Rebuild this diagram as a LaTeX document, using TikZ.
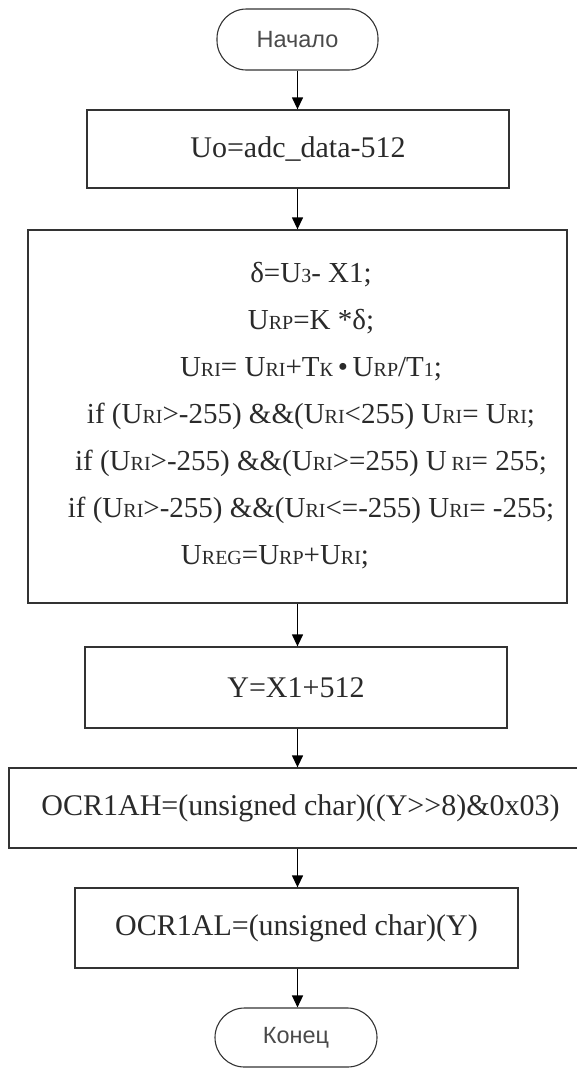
\documentclass[tikz,border=0pt]{standalone}
\usepackage{fontspec}
\setmainfont{Liberation Serif}
\newfontfamily\termfont{Liberation Sans}
\usetikzlibrary{arrows.meta}
\newcommand{\sm}[1]{{\fontsize{20}{20}\selectfont #1}}
\definecolor{linegray}{HTML}{333333}
\definecolor{txtgray}{HTML}{2A2A2A}
\definecolor{termgray}{HTML}{4A4A4A}
\begin{document}
\begin{tikzpicture}[x=1pt,y=-1pt,
  proc/.style={draw=linegray, line width=1.3pt, inner sep=0pt, text=txtgray,
    font=\fontsize{30}{36}\selectfont},
  term/.style={draw=linegray, line width=1.1pt, rounded corners=29.5pt, inner sep=0pt,
    text=termgray, font=\termfont\fontsize{23.5}{28}\selectfont},
  arr/.style={-{Triangle[width=11pt,length=12pt]}, line width=1.3pt, draw=black}]
\useasboundingbox (0,0) rectangle (576,1068);

\node[term, minimum width=161pt, minimum height=61pt] (start) at (297.5,39.5) {Начало};
\node[proc, minimum width=422pt, minimum height=78pt] (b1) at (298,149) {Uo=adc\_data-512};
\node[proc, minimum width=539pt, minimum height=373pt] (b2) at (297.5,416.5) {};
\node[align=center, inner sep=0pt, text=txtgray, font=\fontsize{29}{47}\selectfont] (b2t) at (311,416) {%
δ=U\sm{З}- X1;\\
U\sm{RP}=K *δ;\\
U\sm{RI}= U\sm{RI}+T\sm{К}\,•\,U\sm{RP}/T\sm{1};\\
if (U\sm{RI}>-255) \&\&(U\sm{RI}<255) U\sm{RI}= U\sm{RI};\\
if (U\sm{RI}>-255) \&\&(U\sm{RI}>=255) U\,\sm{RI}= 255;\\
if (U\sm{RI}>-255) \&\&(U\sm{RI}<=-255) U\sm{RI}= -255;\\
U\sm{REG}=U\sm{RP}+U\sm{RI};\rule{72pt}{0pt}};
\node[proc, minimum width=422pt, minimum height=81pt] (b3) at (296,687.5) {Y=X1+512};
\node[proc, minimum width=583pt, minimum height=80pt] (b4) at (300.5,808) {OCR1AH=(unsigned char)((Y>{}>8)\&0x03)};
\node[proc, minimum width=443pt, minimum height=80pt] (b5) at (296.5,928) {OCR1AL=(unsigned char)(Y)};
\node[term, minimum width=162pt, minimum height=59pt] (end) at (296,1037.5) {Конец};

\draw[arr] (start.south) -- (start.south |- b1.north);
\draw[arr] (start.south |- b1.south) -- (start.south |- b2.north);
\draw[arr] (start.south |- b2.south) -- (start.south |- b3.north);
\draw[arr] (start.south |- b3.south) -- (start.south |- b4.north);
\draw[arr] (start.south |- b4.south) -- (start.south |- b5.north);
\draw[arr] (start.south |- b5.south) -- (start.south |- end.north);
\end{tikzpicture}
\end{document}
